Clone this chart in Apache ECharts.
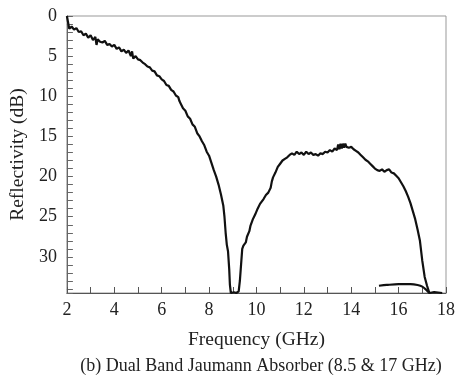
<!DOCTYPE html>
<html>
<head>
<meta charset="utf-8">
<script src="https://cdn.jsdelivr.net/npm/echarts@6/dist/echarts.min.js"></script>
<style>html,body{margin:0;padding:0;background:#fff}#c{width:458px;height:381px}</style>
</head>
<body>
<div id="c"></div>
<script>
const freqMain = [2.00,2.05,2.10,2.2,2.3,2.4,2.5,2.6,2.7,2.8,2.9,3.0,3.1,3.2,3.25,3.3,3.4,3.5,3.6,3.7,3.8,3.9,4.0,4.1,4.2,4.3,4.4,4.5,4.6,4.7,4.75,4.8,4.9,5.0,5.1,5.2,5.3,5.4,5.5,5.6,5.7,5.8,5.9,6.0,6.1,6.2,6.3,6.4,6.5,6.6,6.7,6.75,6.8,6.9,7.0,7.1,7.2,7.3,7.4,7.5,7.6,7.7,7.8,7.9,8.0,8.1,8.2,8.3,8.4,8.5,8.6,8.65,8.7,8.75,8.8,8.85,8.88,8.92,9.05,9.15,9.25,9.3,9.35,9.4,9.45,9.5,9.55,9.6,9.65,9.7,9.75,9.8,9.85,9.9,9.95,10.0,10.05,10.1,10.15,10.2,10.3,10.4,10.45,10.5,10.6,10.65,10.7,10.8,10.9,11.0,11.1,11.2,11.3,11.4,11.5,11.6,11.7,11.8,11.9,12.0,12.1,12.2,12.3,12.4,12.5,12.6,12.7,12.8,12.9,13.0,13.1,13.2,13.3,13.4,13.45,13.5,13.55,13.6,13.65,13.7,13.75,13.8,13.85,13.9,14.0,14.1,14.2,14.3,14.4,14.5,14.6,14.7,14.8,14.9,15.0,15.1,15.2,15.3,15.4,15.5,15.6,15.7,15.8,15.9,16.0,16.1,16.2,16.3,16.4,16.5,16.6,16.7,16.8,16.9,17.0,17.1,17.2,17.3,17.5,17.84];
const dbMain = [0.0,0.8,1.6,1.3,1.7,1.5,2.0,1.9,2.4,2.2,2.7,2.4,3.0,2.6,3.6,2.9,3.2,3.3,3.1,3.6,3.5,3.8,3.6,4.1,3.9,4.4,4.2,4.6,4.3,5.0,4.4,5.3,5.0,5.4,5.5,5.8,6.0,6.3,6.4,6.8,6.9,7.4,7.5,7.9,8.1,8.6,8.7,9.2,9.4,9.9,10.1,10.6,10.9,11.5,11.8,12.5,12.8,13.5,13.8,14.6,15.0,15.6,16.1,16.9,17.4,18.3,19.2,20.0,21.0,22.2,23.6,25.0,27.0,28.5,29.3,31.5,33.5,34.5,34.4,34.5,34.3,33.0,31.0,29.0,28.6,28.7,28.2,27.5,27.6,26.8,26.1,26.0,25.3,25.0,24.7,24.5,24.0,23.9,23.4,23.3,22.8,22.3,22.4,22.0,21.4,20.6,20.1,19.5,18.8,18.4,18.0,17.8,17.6,17.3,17.1,17.3,16.9,17.2,17.0,17.3,16.9,17.2,17.0,17.3,17.2,17.4,17.1,17.2,16.9,17.0,16.7,16.9,16.5,16.7,16.0,16.6,15.9,16.5,15.9,16.4,15.9,16.3,16.1,16.4,16.3,16.6,16.8,17.0,17.3,17.6,17.9,18.1,18.4,18.7,19.0,19.2,19.3,19.1,19.4,19.2,19.1,19.5,19.6,19.9,20.2,20.7,21.2,21.8,22.5,23.3,24.3,25.3,26.6,28.0,30.5,32.5,33.6,34.5,34.4,34.5];
const freqTail = [15.17,15.5,16.0,16.5,16.8,17.0,17.2,17.3];
const dbTail = [33.6,33.5,33.4,33.4,33.5,33.7,34.2,34.5];

const pairs = (xs, ys) => xs.map((x, i) => [x, ys[i]]);
const serif = 'Liberation Serif';
const chart = echarts.init(document.getElementById('c'));
chart.setOption({
  animation: false,
  backgroundColor: '#fff',
  grid: {left: 64, top: 16, right: 4, bottom: 88, show: true, borderColor: '#999', borderWidth: 1},
  title: {
    text: '(b) Dual Band Jaumann Absorber (8.5 & 17 GHz)',
    left: 256, top: 352, textAlign: 'center',
    textStyle: {fontFamily: serif, fontSize: 18, fontWeight: 'normal', color: '#222'}
  },
  xAxis: {
    type: 'value', min: 2, max: 18, interval: 1,
    name: 'Frequency (GHz)', nameLocation: 'middle', nameGap: 37,
    nameTextStyle: {fontFamily: serif, fontSize: 19.5, color: '#222'},
    axisLine: {onZero: false, lineStyle: {color: '#555', width: 1}},
    axisTick: {inside: true, length: 6, interval: 0, lineStyle: {color: '#555'}},
    axisLabel: {interval: 0, margin: 8, fontFamily: serif, fontSize: 18, color: '#222',
      formatter: v => (Math.round(v) % 2 === 0 ? String(Math.round(v)) : '')},
    splitLine: {show: false}
  },
  yAxis: {
    type: 'value', min: 0, max: 34.5, interval: 1, inverse: true,
    name: 'Reflectivity (dB)', nameLocation: 'middle', nameGap: 37, nameRotate: 90,
    nameTextStyle: {fontFamily: serif, fontSize: 19.5, color: '#222'},
    axisLine: {show: true, onZero: false, lineStyle: {color: '#666', width: 1}},
    axisTick: {show: true, inside: true, length: 6, interval: 0, lineStyle: {color: '#666'}},
    axisLabel: {interval: 0, margin: 10, fontFamily: serif, fontSize: 18, color: '#222',
      formatter: v => (Math.abs(v % 5) < 1e-6 ? String(Math.round(v)) : '')},
    splitLine: {show: false}
  },
  series: [
    {type: 'line', data: pairs(freqMain, dbMain), showSymbol: false, clip: false,
     lineStyle: {color: '#111', width: 2.2}},
    {type: 'line', data: pairs(freqTail, dbTail), showSymbol: false, clip: false, smooth: 0.3,
     lineStyle: {color: '#111', width: 2.2}}
  ]
});
</script>
</body>
</html>
